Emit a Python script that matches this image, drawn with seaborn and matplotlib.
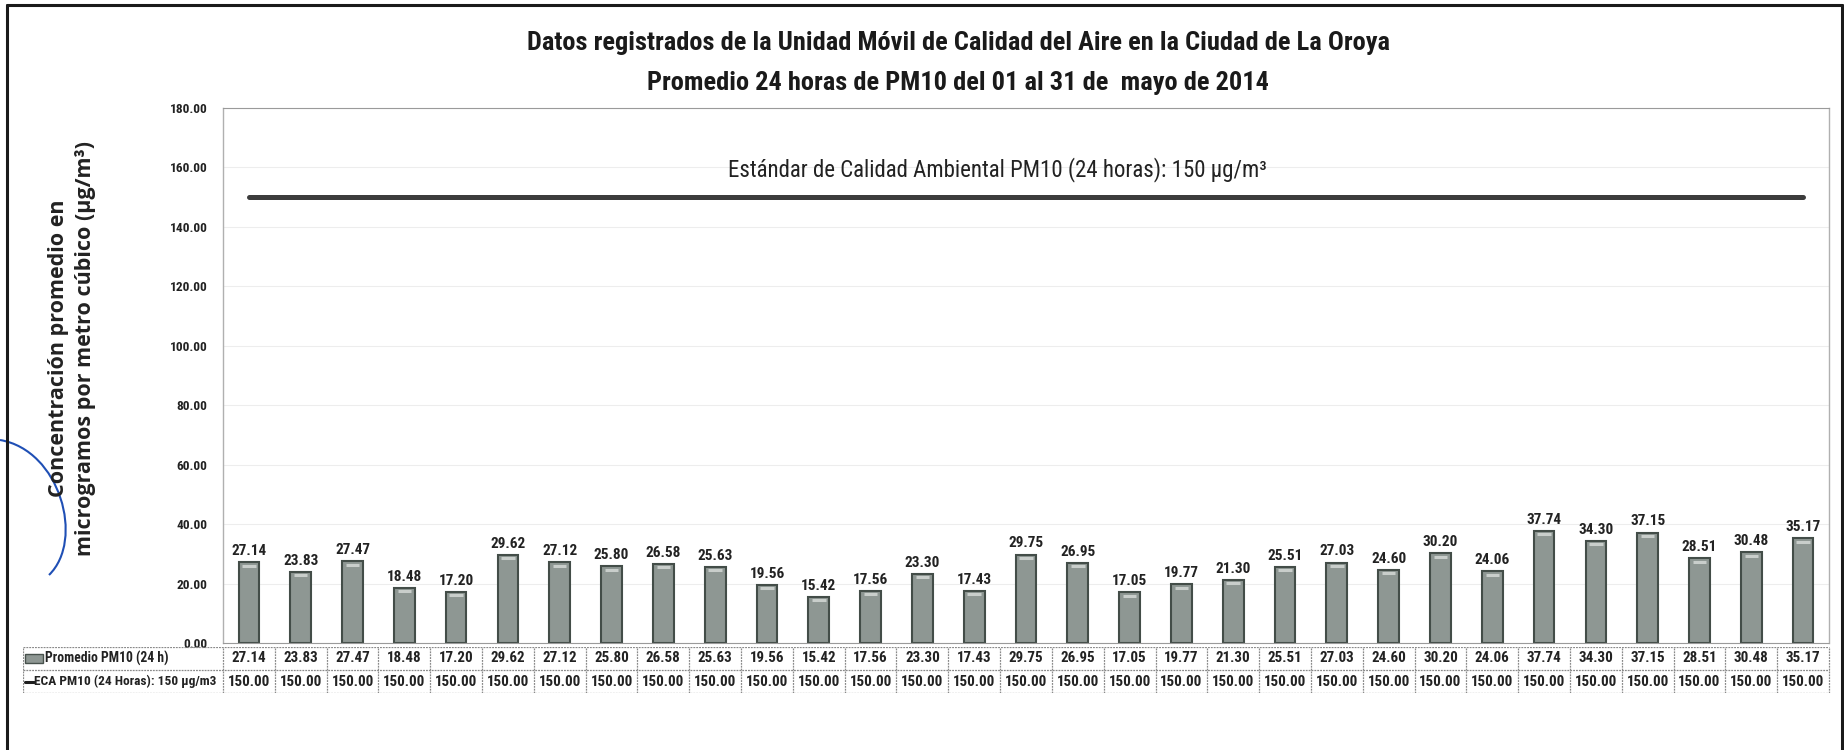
import matplotlib
matplotlib.use("Agg")
import matplotlib.pyplot as plt
import seaborn as sns
import numpy as np
from matplotlib import font_manager
from matplotlib.lines import Line2D
from matplotlib.patches import Rectangle, PathPatch
from matplotlib.path import Path

# data
days = [f"{d:02d}" for d in range(1, 32)]
pm10 = [27.14, 23.83, 27.47, 18.48, 17.20, 29.62, 27.12, 25.80, 26.58, 25.63,
        19.56, 15.42, 17.56, 23.30, 17.43, 29.75, 26.95, 17.05, 19.77, 21.30,
        25.51, 27.03, 24.60, 30.20, 24.06, 37.74, 34.30, 37.15, 28.51, 30.48, 35.17]
eca_limit = 150.00
eca = [eca_limit] * len(days)
row_labels = ["Promedio PM10 (24 h)", "ECA PM10 (24 Horas): 150 \u00b5g/m3"]
title = ("Datos registrados de la Unidad M\u00f3vil de Calidad del Aire en la Ciudad de La Oroya\n"
         "Promedio 24 horas de PM10 del 01 al 31 de  mayo de 2014")
ylabel = "Concentraci\u00f3n promedio en\nmicrogramos por metro c\u00fabico (\u00b5g/m\u00b3)"
eca_note = "Est\u00e1ndar de Calidad Ambiental PM10 (24 horas): 150 \u00b5g/m\u00b3"

sns.set_style("white")

# pick the narrowest face that is installed (the scan looks like Calibri)
installed = {f.name for f in font_manager.fontManager.ttflist}
choices = [("Roboto Condensed", 1.0), ("Liberation Sans Narrow", 1.1),
           ("DejaVu Sans Condensed", 0.82), ("Noto Sans Condensed", 0.98),
           ("Roboto", 0.91)]
main_font, k = "DejaVu Sans", 0.73
for name, scale in choices:
    if name in installed:
        main_font, k = name, scale
        break
plt.rcParams["font.family"] = [main_font, "DejaVu Sans"]

W, H = 1844, 750
fig = plt.figure(figsize=(W / 100, H / 100), dpi=100)

def px(x0, y0, x1, y1):
    return [x0 / W, 1 - y1 / H, (x1 - x0) / W, (y1 - y0) / H]

ax = fig.add_axes(px(223, 108, 1829, 643))

bar_color = "#8e9793"
sns.barplot(x=days, y=pm10, ax=ax, color=bar_color, saturation=1, width=0.4,
            edgecolor="#434d48", linewidth=1.5)
xpos = np.arange(len(days))
ax.hlines([v - 1.1 for v in pm10], xpos - 0.13, xpos + 0.13, color="#c9cecb", linewidth=2.2)
sns.lineplot(x=xpos, y=eca, ax=ax, color="#3c3c3c", linewidth=3.6)

ax.bar_label(ax.containers[0], labels=[f"{v:.2f}" for v in pm10], padding=3,
             fontsize=11 * k, fontweight="bold", color="#222222")

ax.set_xlim(-0.5, len(days) - 0.5)
ax.set_ylim(0, 180)
ax.set_yticks(np.arange(0, 181, 20))
ax.set_yticklabels([f"{t:.2f}" for t in np.arange(0, 181, 20)],
                   fontsize=9.6 * k, fontweight="bold", color="#222222")
ax.set_xticks([])
ax.set_xlabel("")
ax.set_ylabel("")
ax.tick_params(axis="y", length=4, color="#aaaaaa", pad=7)
ax.grid(axis="y", color="#ededed", linewidth=0.8)
ax.set_axisbelow(True)
for side in ["left", "right"]:
    ax.spines[side].set_color("#b0b0b0")
    ax.spines[side].set_linewidth(1)
ax.spines["top"].set_color("#9a9a9a")
ax.spines["top"].set_linestyle((0, (4, 1)))
ax.spines["bottom"].set_color("#9a9a9a")
ax.spines["bottom"].set_linestyle((0, (1, 1)))

fig.text(1267 / W, 1 - 170 / H, eca_note, ha="right", va="center",
         fontsize=16.5 * k, color="#222222")

# data table below the plot
tab = fig.add_axes(px(23, 647, 1832, 693))
unit = (1829 - 223) / len(days)
x_left = -0.5 - (223 - 23) / unit
x_right = len(days) - 0.5 + (1832 - 1829) / unit
tab.set_xlim(x_left, x_right)
tab.set_ylim(0, 2)
tab.axis("off")
line_kw = dict(color="#8a8a8a", linewidth=0.9, linestyle=(0, (1.5, 0.8)))
for yy in [0, 1, 2]:
    tab.plot([x_left, len(days) - 0.5], [yy, yy], **line_kw)
for kk in range(len(days) + 1):
    tab.plot([kk - 0.5, kk - 0.5], [0, 2], **line_kw)
tab.plot([x_left, x_left], [0, 2], **line_kw)
for i, (a, b) in enumerate(zip(pm10, eca)):
    tab.text(i, 1.5, f"{a:.2f}", ha="center", va="center", fontsize=10.8 * k,
             fontweight="bold", color="#222222")
    tab.text(i, 0.5, f"{b:.2f}", ha="center", va="center", fontsize=10.8 * k,
             fontweight="bold", color="#222222")
r0 = x_left + 2 / unit
r1 = x_left + 20 / unit
tab.add_patch(Rectangle((r0, 1.32), r1 - r0, 0.36, facecolor=bar_color,
                        edgecolor="#48524d", linewidth=1))
tab.plot([r0, x_left + 11 / unit], [0.5, 0.5], color="#1e1e1e", linewidth=2.2)
tab.text(x_left + 22 / unit, 1.5, row_labels[0], ha="left", va="center",
         fontsize=9.8 * k, fontweight="bold", color="#222222")
tab.text(x_left + 11 / unit, 0.5, row_labels[1], ha="left", va="center",
         fontsize=9.6 * k, fontweight="bold", color="#222222")

fig.text(958 / W, 1 - 63 / H, title, ha="center", va="center", fontsize=19 * k,
         fontweight="bold", color="#1a1a1a", linespacing=1.8)
fig.text(72 / W, 1 - 348 / H, ylabel, ha="center", va="center", rotation=90,
         fontsize=15.5, fontweight="bold", color="#222222", linespacing=1.4,
         family=["Open Sans", "DejaVu Sans"])

# scanned page frame and pen mark
fk = dict(color="#1a1a1a", linewidth=2.2, transform=fig.transFigure)
fig.add_artist(Line2D([7 / W, 7 / W], [0, 1 - 5 / H], **fk))
fig.add_artist(Line2D([7 / W, 1842 / W], [1 - 5 / H, 1 - 5 / H], **fk))
fig.add_artist(Line2D([1842 / W, 1842 / W], [0, 1 - 5 / H], **fk))
pen = Path([(0 / W, 1 - 440 / H), (60 / W, 1 - 450 / H), (85 / W, 1 - 540 / H),
            (49 / W, 1 - 575 / H)],
           [Path.MOVETO, Path.CURVE4, Path.CURVE4, Path.CURVE4])
fig.add_artist(PathPatch(pen, facecolor="none", edgecolor="#1f4fb5", linewidth=1.5,
                         transform=fig.transFigure))

fig.savefig("out.png", dpi=100, facecolor="white")
